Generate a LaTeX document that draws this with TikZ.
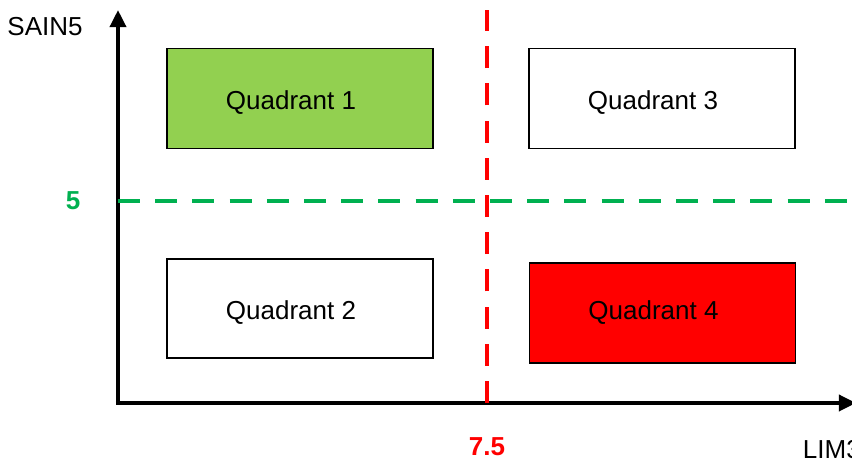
\documentclass[tikz,border=0pt]{standalone}
\usepackage{fontspec}
\setmainfont{Liberation Sans}
\usetikzlibrary{arrows.meta, positioning}
\definecolor{quadgreen}{HTML}{92D050}
\definecolor{lineagreen}{HTML}{00B050}
\definecolor{quadred}{HTML}{FF0000}

\begin{document}
\begin{tikzpicture}[
    every node/.style={font=\fontsize{18.5}{22}\selectfont},
    quad/.style={rectangle, draw=black, line width=1.4pt, fill=#1,
                 minimum width=6.65cm, minimum height=2.5cm, align=center,
                 text height=0.58cm, text depth=0.03cm,
                 execute at end node={\hspace{0.45cm}}},
    quad/.default=white,
    axis/.style={line width=2.8pt, -{Triangle[length=0.43cm, width=0.4cm]}},
    limit/.style={line width=2.8pt, dash pattern=on 0.55cm off 0.38cm},
    value/.style={font=\fontsize{18.5}{22}\selectfont\bfseries}
]
\useasboundingbox (-2.95,-1.45) rectangle (18.35,10.075);

% Axes
\coordinate (O) at (0,0);
\coordinate (ytop) at (0,9.825);
\coordinate (xend) at (18.45,0);
\draw[axis] (0,-0.05) -- (ytop);
\draw[axis] (-0.05,0) -- (xend);

% Limits
\coordinate (gl) at (0,5.05);
\coordinate (gr) at (18.35,5.05);
\coordinate (rb) at (9.225,0);
\coordinate (rt) at (9.225,9.825);
\draw[limit, lineagreen] (gl) -- (gr);
\draw[limit, quadred] (rb) -- (rt);

% Quadrants
\node[quad=quadgreen] at (4.55,7.6125) (q1) {Quadrant 1};
\node[quad] at (13.6,7.6125) (q3) {Quadrant 3};
\node[quad, minimum height=2.475cm] at (4.55,2.3625) (q2) {Quadrant 2};
\node[quad=quadred, text height=0.38cm] at (13.6125,2.25) (q4) {Quadrant 4};

% Axis labels
\node at (-1.825,9.4) (ylab) {SAIN5};
\node[anchor=west] at (17.0,-1.175) (xlab) {LIM3};
\node[value, text=lineagreen] at (-1.125,5.05) (five) {5};
\node[value, text=quadred] at (9.225,-1.1) (seven) {7.5};

\end{tikzpicture}
\end{document}
